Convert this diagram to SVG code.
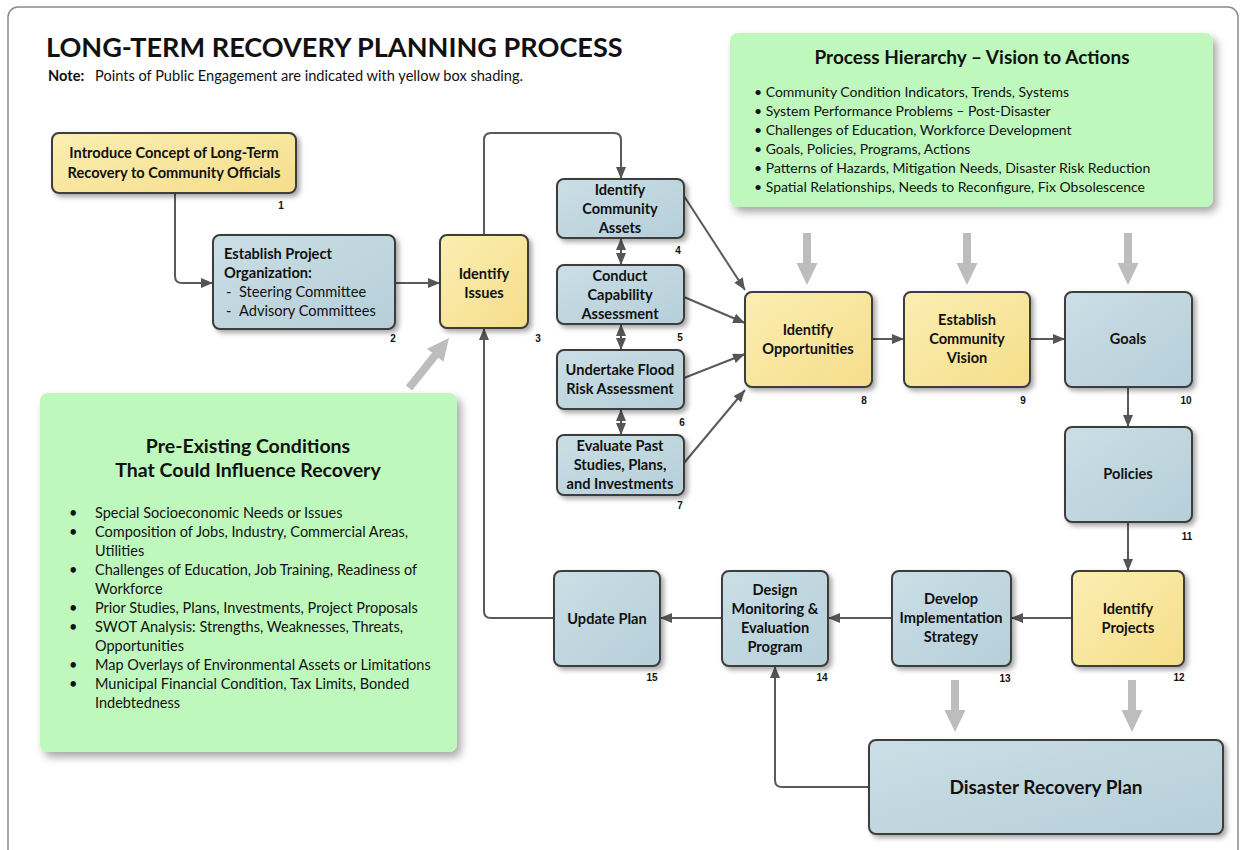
<svg xmlns="http://www.w3.org/2000/svg" xmlns:xlink="http://www.w3.org/1999/xlink" width="1244" height="850" viewBox="0 0 1244 850">
<defs>
<style>
.t{font-family:Lato,"Liberation Sans",sans-serif;fill:#111;}
.b{font-weight:bold;}
.n{font-size:14.6px;font-weight:bold;text-anchor:middle;}
.num{font-family:"Liberation Sans",Arial,sans-serif;font-size:10px;font-weight:bold;text-anchor:middle;fill:#111;}
.bl{font-size:14px;}
.yl{fill:url(#gy);stroke:#3c3c3c;stroke-width:2;filter:url(#sh);}
.bu{fill:url(#gb);stroke:#3c3c3c;stroke-width:2;filter:url(#sh);}
.gr{fill:#bff8bd;filter:url(#sh2);}
.c{fill:none;stroke:#5a5a5a;stroke-width:2;}
.ga{fill:#bdbdbd;}
</style>
<linearGradient id="gy" x1="0" y1="0" x2="1" y2="1">
<stop offset="0" stop-color="#fbeeb2"/><stop offset="1" stop-color="#f5de8a"/>
</linearGradient>
<linearGradient id="gb" x1="0" y1="0" x2="1" y2="1">
<stop offset="0" stop-color="#cadee5"/><stop offset="1" stop-color="#b6cfd9"/>
</linearGradient>
<filter id="sh" x="-20%" y="-20%" width="140%" height="140%">
<feDropShadow dx="3" dy="3" stdDeviation="2.5" flood-color="#000" flood-opacity="0.35"/>
</filter>
<filter id="sh2" x="-20%" y="-20%" width="140%" height="140%">
<feDropShadow dx="4" dy="5" stdDeviation="4" flood-color="#000" flood-opacity="0.35"/>
</filter>
<marker id="ah" viewBox="0 0 12 10" refX="12" refY="5" markerWidth="12" markerHeight="10" markerUnits="userSpaceOnUse" orient="auto-start-reverse">
<path d="M0,0 L12,5 L0,10 Z" fill="#555"/>
</marker>
<path id="gar" d="M-4,0 L4,0 L4,30 L10.5,30 L0,52 L-10.5,30 L-4,30 Z"/>
</defs>

<rect x="8" y="7" width="1230" height="880" rx="10" fill="#fff" stroke="#8a8a8a" stroke-width="1.5"/>

<text class="t b" x="46" y="57" font-size="27.1">LONG-TERM RECOVERY PLANNING PROCESS</text>
<text class="t" x="48" y="81" font-size="14.6"><tspan font-weight="bold">Note:</tspan><tspan x="95">Points of Public Engagement are indicated with yellow box shading.</tspan></text>

<g id="hierarchy">
<rect class="gr" x="730" y="33" width="483" height="174" rx="8"/>
<text class="t b" x="972" y="64" font-size="19" text-anchor="middle">Process Hierarchy – Vision to Actions</text>
<g class="t bl">
<text x="754" y="97">• Community Condition Indicators, Trends, Systems</text>
<text x="754" y="116">• System Performance Problems – Post-Disaster</text>
<text x="754" y="135">• Challenges of Education, Workforce Development</text>
<text x="754" y="154">• Goals, Policies, Programs, Actions</text>
<text x="754" y="173">• Patterns of Hazards, Mitigation Needs, Disaster Risk Reduction</text>
<text x="754" y="192">• Spatial Relationships, Needs to Reconfigure, Fix Obsolescence</text>
</g>
</g>

<g id="preexisting">
<rect class="gr" x="40" y="393" width="417" height="359" rx="8"/>
<text class="t b" x="248" y="453" font-size="19.5" text-anchor="middle">Pre-Existing Conditions</text>
<text class="t b" x="248" y="477" font-size="19.5" text-anchor="middle">That Could Influence Recovery</text>
<g class="t" font-size="14.5">
<text x="69" y="518">•</text><text x="95" y="518">Special Socioeconomic Needs or Issues</text>
<text x="69" y="537">•</text><text x="95" y="537">Composition of Jobs, Industry, Commercial Areas,</text>
<text x="95" y="556">Utilities</text>
<text x="69" y="575">•</text><text x="95" y="575">Challenges of Education, Job Training, Readiness of</text>
<text x="95" y="594">Workforce</text>
<text x="69" y="613">•</text><text x="95" y="613">Prior Studies, Plans, Investments, Project Proposals</text>
<text x="69" y="632">•</text><text x="95" y="632">SWOT Analysis: Strengths, Weaknesses, Threats,</text>
<text x="95" y="651">Opportunities</text>
<text x="69" y="670">•</text><text x="95" y="670">Map Overlays of Environmental Assets or Limitations</text>
<text x="69" y="689">•</text><text x="95" y="689">Municipal Financial Condition, Tax Limits, Bonded</text>
<text x="95" y="708">Indebtedness</text>
</g>
</g>

<g id="connectors">
<path class="c" d="M175,193 V276 Q175,283 182,283 H213" marker-end="url(#ah)"/>
<path class="c" d="M395,283 H440" marker-end="url(#ah)"/>
<path class="c" d="M484,235 V140 Q484,133 491,133 H614 Q621,133 621,140 V179" marker-end="url(#ah)"/>
<path class="c" d="M621,238 V265" marker-start="url(#ah)" marker-end="url(#ah)"/>
<path class="c" d="M621,324 V350" marker-start="url(#ah)" marker-end="url(#ah)"/>
<path class="c" d="M621,409 V435" marker-start="url(#ah)" marker-end="url(#ah)"/>
<path class="c" d="M684,196 L745,290" marker-end="url(#ah)"/>
<path class="c" d="M684,297 L745,323" marker-end="url(#ah)"/>
<path class="c" d="M684,378 L745,354" marker-end="url(#ah)"/>
<path class="c" d="M684,463 L745,390" marker-end="url(#ah)"/>
<path class="c" d="M872,339 H904" marker-end="url(#ah)"/>
<path class="c" d="M1030,339 H1065" marker-end="url(#ah)"/>
<path class="c" d="M1128,387 V427" marker-end="url(#ah)"/>
<path class="c" d="M1128,522 V571" marker-end="url(#ah)"/>
<path class="c" d="M1072,618 H1011" marker-end="url(#ah)"/>
<path class="c" d="M892,618 H828" marker-end="url(#ah)"/>
<path class="c" d="M722,618 H660" marker-end="url(#ah)"/>
<path class="c" d="M554,618 H491 Q484,618 484,611 V328" marker-end="url(#ah)"/>
<path class="c" d="M869,787 H782 Q775,787 775,780 V666" marker-end="url(#ah)"/>
<use href="#gar" class="ga" x="807" y="233"/>
<use href="#gar" class="ga" x="967" y="233"/>
<use href="#gar" class="ga" x="1128" y="233"/>
<use href="#gar" class="ga" x="955" y="680"/>
<use href="#gar" class="ga" x="1132" y="680"/>
<path class="ga" d="M-4,0 L4,0 L4,42 L10.5,42 L0,64 L-10.5,42 L-4,42 Z" transform="translate(409,388) rotate(-141.34)"/>
</g>

<g id="n1">
<rect class="yl" x="52" y="133" width="244" height="60" rx="7"/>
<text class="t n" x="174" y="158">Introduce Concept of Long-Term</text>
<text class="t n" x="174" y="178">Recovery to Community Officials</text>
<text class="num" x="281" y="209">1</text>
</g>
<g id="n2">
<rect class="bu" x="213" y="235" width="182" height="94" rx="7"/>
<text class="t b" x="224" y="259" font-size="14.6">Establish Project</text>
<text class="t b" x="224" y="278" font-size="14.6">Organization:</text>
<text class="t" x="226" y="297" font-size="14.6">-<tspan x="239">Steering Committee</tspan></text>
<text class="t" x="226" y="316" font-size="14.6">-<tspan x="239">Advisory Committees</tspan></text>
<text class="num" x="393" y="342">2</text>
</g>
<g id="n3">
<rect class="yl" x="440" y="235" width="88" height="93" rx="7"/>
<text class="t n" x="484" y="279">Identify</text>
<text class="t n" x="484" y="298">Issues</text>
<text class="num" x="538" y="342">3</text>
</g>
<g id="n4">
<rect class="bu" x="557" y="179" width="127" height="59" rx="7"/>
<text class="t n" x="620" y="195">Identify</text>
<text class="t n" x="620" y="214">Community</text>
<text class="t n" x="620" y="233">Assets</text>
<text class="num" x="678" y="254">4</text>
</g>
<g id="n5">
<rect class="bu" x="557" y="265" width="127" height="59" rx="7"/>
<text class="t n" x="620" y="281">Conduct</text>
<text class="t n" x="620" y="300">Capability</text>
<text class="t n" x="620" y="319">Assessment</text>
<text class="num" x="680" y="341">5</text>
</g>
<g id="n6">
<rect class="bu" x="557" y="350" width="127" height="59" rx="7"/>
<text class="t n" x="620" y="375">Undertake Flood</text>
<text class="t n" x="620" y="394">Risk Assessment</text>
<text class="num" x="682" y="426">6</text>
</g>
<g id="n7">
<rect class="bu" x="557" y="435" width="127" height="60" rx="7"/>
<text class="t n" x="620" y="451">Evaluate Past</text>
<text class="t n" x="620" y="470">Studies, Plans,</text>
<text class="t n" x="620" y="489">and Investments</text>
<text class="num" x="680" y="509">7</text>
</g>
<g id="n8">
<rect class="yl" x="745" y="292" width="127" height="95" rx="7"/>
<text class="t n" x="808" y="335">Identify</text>
<text class="t n" x="808" y="354">Opportunities</text>
<text class="num" x="864" y="404">8</text>
</g>
<g id="n9">
<rect class="yl" x="904" y="292" width="126" height="95" rx="7"/>
<text class="t n" x="967" y="325">Establish</text>
<text class="t n" x="967" y="344">Community</text>
<text class="t n" x="967" y="363">Vision</text>
<text class="num" x="1023" y="404">9</text>
</g>
<g id="n10">
<rect class="bu" x="1065" y="292" width="127" height="95" rx="7"/>
<text class="t n" x="1128" y="344">Goals</text>
<text class="num" x="1186" y="404">10</text>
</g>
<g id="n11">
<rect class="bu" x="1065" y="427" width="127" height="95" rx="7"/>
<text class="t n" x="1128" y="479">Policies</text>
<text class="num" x="1187" y="540">11</text>
</g>
<g id="n12">
<rect class="yl" x="1072" y="571" width="112" height="95" rx="7"/>
<text class="t n" x="1128" y="614">Identify</text>
<text class="t n" x="1128" y="633">Projects</text>
<text class="num" x="1179" y="681">12</text>
</g>
<g id="n13">
<rect class="bu" x="892" y="571" width="119" height="95" rx="7"/>
<text class="t n" x="951" y="604">Develop</text>
<text class="t n" x="951" y="623">Implementation</text>
<text class="t n" x="951" y="642">Strategy</text>
<text class="num" x="1005" y="682">13</text>
</g>
<g id="n14">
<rect class="bu" x="722" y="571" width="106" height="95" rx="7"/>
<text class="t n" x="775" y="595">Design</text>
<text class="t n" x="775" y="614">Monitoring &amp;</text>
<text class="t n" x="775" y="633">Evaluation</text>
<text class="t n" x="775" y="652">Program</text>
<text class="num" x="822" y="681">14</text>
</g>
<g id="n15">
<rect class="bu" x="554" y="571" width="106" height="95" rx="7"/>
<text class="t n" x="607" y="624">Update Plan</text>
<text class="num" x="652" y="681">15</text>
</g>
<g id="n16">
<rect class="bu" x="869" y="740" width="354" height="94" rx="7"/>
<text class="t b" x="1046" y="794" font-size="19" text-anchor="middle">Disaster Recovery Plan</text>
</g>
</svg>
